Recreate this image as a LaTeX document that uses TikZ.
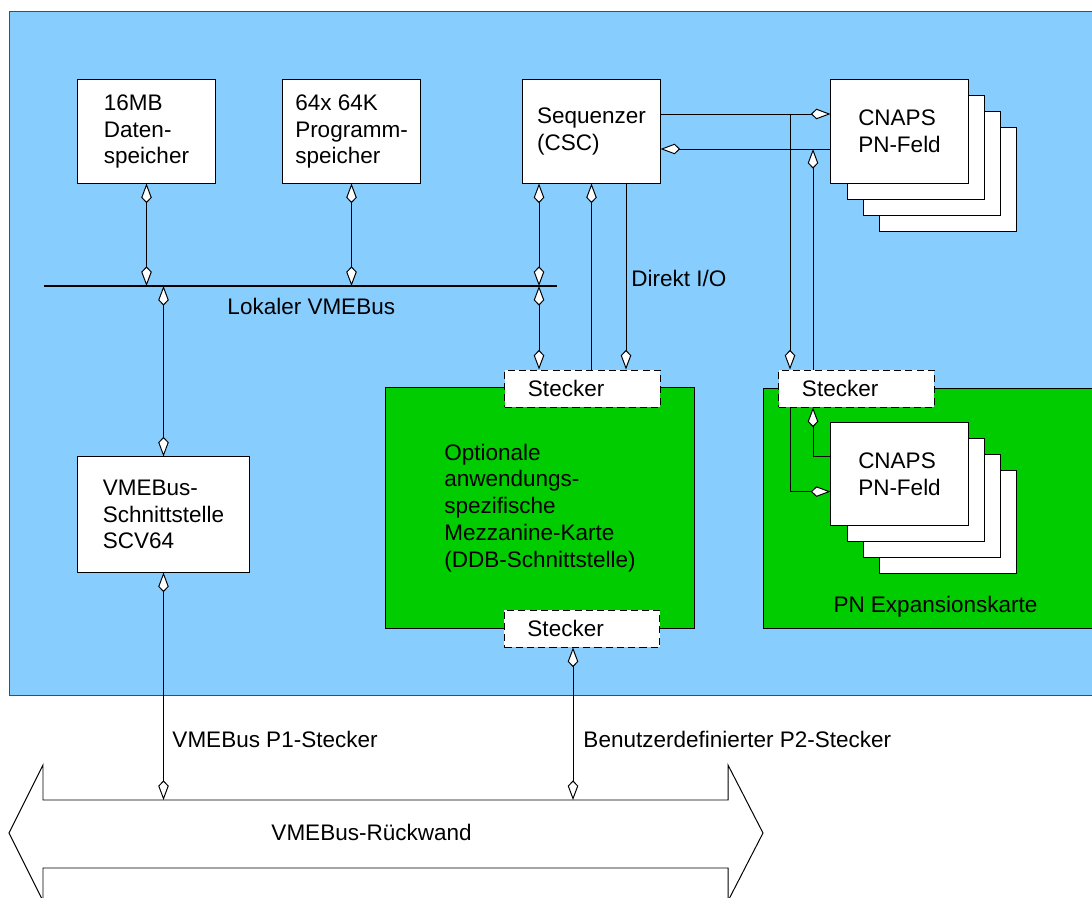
\documentclass[tikz,border=0pt]{standalone}
\usepackage{fontspec}
\setmainfont{Liberation Sans}
\usetikzlibrary{arrows.meta}
\definecolor{boardblue}{RGB}{135,206,255}
\definecolor{cardgreen}{RGB}{0,204,0}

\begin{document}
\begin{tikzpicture}[x=0.025cm, y=-0.025cm, line width=0.7pt,
    font=\fontsize{16}{19.1}\selectfont,
    dia/.tip={Kite[length=14pt,width=7.5pt,inset=4pt,fill=white]},
    box/.style={draw, fill=white, align=left, minimum width=3.425cm, minimum height=2.575cm},
    plug/.style={draw, dash pattern=on 5pt off 3pt, fill=white, align=left,
                 text width=2.725cm, inner xsep=0.575cm, minimum height=0.925cm},
    card/.style={draw, fill=cardgreen, align=left},
    lbl/.style={anchor=base west, inner sep=0pt}]
    \useasboundingbox (0,0) rectangle (1092,898);

    % Board
    \draw[fill=boardblue, draw=gray!60!black] (9,11) rectangle (1100,695);

    % Cards
    \node[card, minimum width=7.7cm, minimum height=6cm] (mezz) at (540,508)
        {Optionale\\anwendungs-\\spezifische\\Mezzanine-Karte\\(DDB-Schnittstelle)};
    \node[card, minimum width=8.425cm, minimum height=6cm, anchor=north west] (exp) at (763,388) {};
    \node[lbl] (explbl) at (833,612) {PN Expansionskarte};

    % Stecker
    \node[plug] (st1) at (582.5,388.5) {Stecker};
    \node[plug] (st2) at (582,628.5) {Stecker};
    \node[plug] (st3) at (856.5,388.5) {Stecker};

    % Boxes
    \node[box] (dat) at (146.5,131.5) {16MB\\Daten-\\speicher};
    \node[box] (prog) at (351.5,131.5) {64x 64K\\Programm-\\speicher};
    \node[box] (seq) at (591.5,131.5) {Sequenzer\\(CSC)};
    \node[box, minimum width=4.275cm, minimum height=2.875cm] (vmeif) at (163.5,514.5)
        {VMEBus-\\Schnittstelle\\SCV64};

    % CNAPS stacks
    \foreach \i in {3,2,1} {
        \node[box] (cnapsA\i) at (899.5+16*\i,131.5+16*\i) {};
        \node[box, minimum height=2.55cm] (cnapsB\i) at (899.5+16*\i,474+16*\i) {};
    }
    \node[box] (cnapsA) at (899.5,131.5) {CNAPS\\PN-Feld};
    \node[box, minimum height=2.55cm] (cnapsB) at (899.5,474) {CNAPS\\PN-Feld};

    % Local bus
    \coordinate (busL) at (44,286);
    \coordinate (busR) at (557,286);
    \draw[line width=1.8pt] (busL) -- (busR);
    \node[lbl] (buslbl) at (227,315) {Lokaler VMEBus};

    % Backplane
    \draw[fill=white] (9,833) -- (43,765) -- (43,800) -- (728,800) -- (728,765) -- (763,833)
        -- (728,901) -- (728,868) -- (43,868) -- (43,901) -- cycle;
    \node[lbl] (bplbl) at (271,840) {VMEBus-Rückwand};
    \coordinate (p1) at (163,800);
    \coordinate (p2) at (573,800);

    % Connectors to the bus
    \draw[dia-dia] (dat.south) -- (dat.south |- busL);
    \draw[dia-dia] (prog.south) -- (prog.south |- busL);
    \draw[dia-dia] (busL -| vmeif.north) -- (vmeif.north);
    \coordinate (tap) at (539,286);
    \draw[dia-dia] (seq.south -| tap) -- (tap);
    \draw[dia-dia] (tap) -- (st1.north -| tap);

    % Direct I/O
    \draw[-dia] (st1.north -| seq.south) -- (seq.south);
    \coordinate (dio) at (626,286);
    \draw[-dia] (seq.south -| dio) -- (st1.north -| dio);
    \node[lbl] (diolbl) at (631,287) {Direkt I/O};

    % CNAPS links
    \coordinate (hi) at (790,114);
    \coordinate (lo) at (813,149);
    \draw[-dia] (seq.east |- hi) -- (cnapsA.west |- hi);
    \draw[dia-] (seq.east |- lo) -- (cnapsA.west |- lo);
    \draw[-dia] (hi) -- (st3.north -| hi);
    \draw[dia-] (lo) -- (st3.north -| lo);
    \draw[dia-] (st3.south -| lo) |- ([yshift=0.43cm]cnapsB.west);
    \draw[-dia] (st3.south -| hi) |- ([yshift=-0.44cm]cnapsB.west);

    % Backplane links
    \draw[dia-dia] (vmeif.south) -- (vmeif.south |- p1);
    \draw[dia-dia] (st2.south -| p2) -- (p2);
    \node[lbl] (p1lbl) at (172,747) {VMEBus P1-Stecker};
    \node[lbl] (p2lbl) at (583,747) {Benutzerdefinierter P2-Stecker};
\end{tikzpicture}
\end{document}
